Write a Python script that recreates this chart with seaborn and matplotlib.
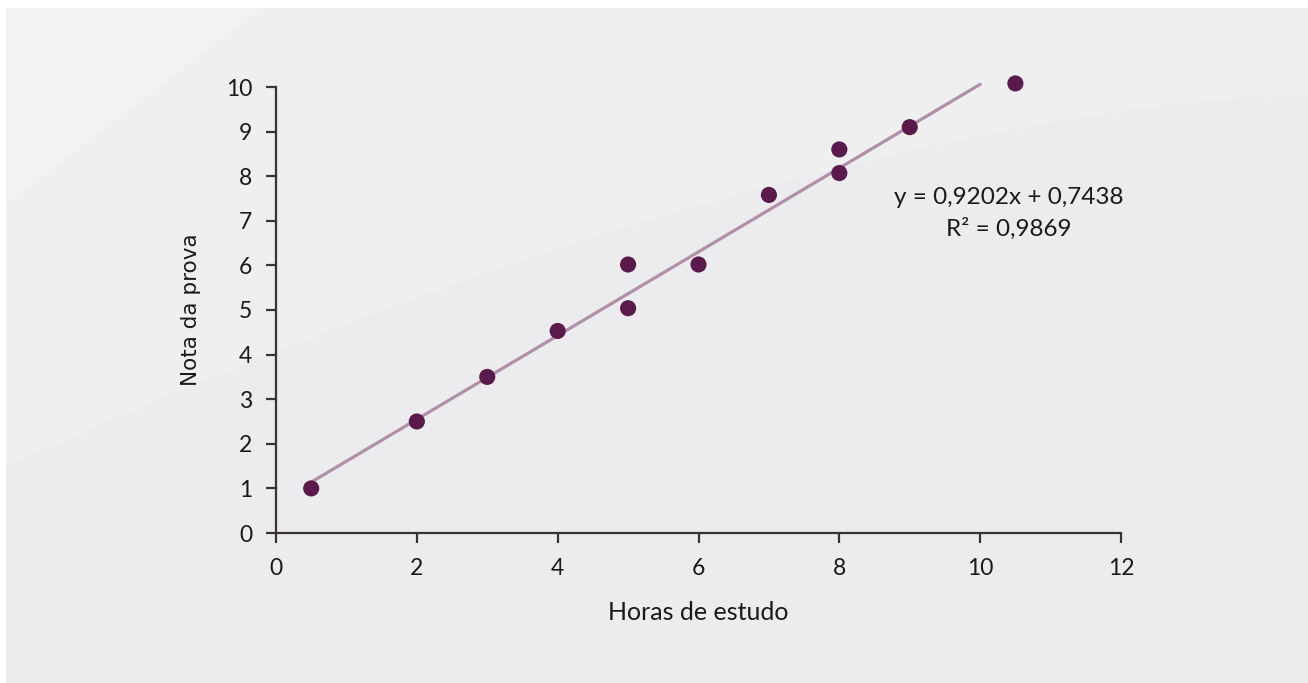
import numpy as np
import pandas as pd
import matplotlib
matplotlib.use("Agg")
import matplotlib.pyplot as plt
import seaborn as sns
from matplotlib.patches import Polygon, Rectangle

# ---- data ----
horas = [0.5, 2, 3, 4, 5, 5, 6, 7, 8, 8, 9, 10.5]
notas = [1.0, 2.5, 3.5, 4.53, 5.04, 6.02, 6.02, 7.58, 8.07, 8.6, 9.1, 10.08]
trend_x = [0.5, 10]
trend_y = [1.14, 10.06]
x_ticks = [0, 2, 4, 6, 8, 10, 12]
y_ticks = [0, 1, 2, 3, 4, 5, 6, 7, 8, 9, 10]
equation = "y = 0,9202x + 0,7438"
r2_text = "R² = 0,9869"
x_label = "Horas de estudo"
y_label = "Nota da prova"

df = pd.DataFrame({"horas": horas, "notas": notas})
df_tr = pd.DataFrame({"x": trend_x, "y": trend_y})

sns.set_theme(style="white")
plt.rcParams["font.family"] = ["Lato", "DejaVu Sans"]

W, H = 1308, 683
fig = plt.figure(figsize=(W / 100, H / 100), dpi=100, facecolor="white")

# background panel and soft decorative swooshes (figure pixel coords -> fraction)
def fx(px):
    return px / W

def fy(py):
    return 1 - py / H

fig.patches.append(Rectangle((fx(6), fy(683)), fx(1308) - fx(6), fy(8) - fy(683),
                             transform=fig.transFigure, facecolor="#ECECEE",
                             edgecolor="none", zorder=-10))
t = np.linspace(0, 1, 60)
cx = t * 1308
cy = 470 - 375 * (1 - (1 - t) ** 1.6)
pts = [(fx(6), fy(8)), (fx(1308), fy(8))] + [(fx(a), fy(b)) for a, b in zip(cx[::-1], cy[::-1])]
pts = [(max(p[0], fx(6)), p[1]) for p in pts]
fig.patches.append(Polygon(pts, closed=True, transform=fig.transFigure,
                           facecolor="#EFEFF0", edgecolor="none", zorder=-9))
fig.patches.append(Polygon([(fx(6), fy(8)), (fx(262), fy(8)), (fx(6), fy(205))], closed=True,
                           transform=fig.transFigure, facecolor="#F2F2F2",
                           edgecolor="none", zorder=-8))

ax = fig.add_axes([fx(276), fy(533), fx(1121) - fx(276), fy(87) - fy(533)])
ax.patch.set_alpha(0)

line_c = "#B18EA9"
dot_c = "#5A1A4B"
axis_c = "#3B3333"

sns.lineplot(data=df_tr, x="x", y="y", ax=ax, color=line_c, linewidth=2.3, zorder=2)
for ln in ax.lines:
    ln.set_clip_on(False)
sns.scatterplot(data=df, x="horas", y="notas", ax=ax, color=dot_c, s=135,
                edgecolor="none", zorder=3, clip_on=False)

ax.set_xlim(0, 12)
ax.set_ylim(0, 10)
ax.set_xticks(x_ticks)
ax.set_yticks(y_ticks)
for s in ["top", "right"]:
    ax.spines[s].set_visible(False)
for s in ["left", "bottom"]:
    ax.spines[s].set_color(axis_c)
    ax.spines[s].set_linewidth(1.6)
ax.tick_params(axis="both", direction="out", length=7, width=1.6, color=axis_c,
               labelsize=16.5, labelcolor="#1a1a1a", left=True, bottom=True)
ax.tick_params(axis="x", pad=11)
ax.tick_params(axis="y", pad=10)

ax.set_xlabel(x_label, fontsize=18, color="#1a1a1a", labelpad=16)
ax.set_ylabel(y_label, fontsize=15.5, color="#1a1a1a", family="DejaVu Sans", labelpad=18)

ax.text(10.4, 7.52, equation, ha="center", va="center", fontsize=17.5, color="#1a1a1a")
ax.text(10.4, 6.82, r2_text, ha="center", va="center", fontsize=17.5, color="#1a1a1a")

fig.savefig("out.png", dpi=100, facecolor="white")
